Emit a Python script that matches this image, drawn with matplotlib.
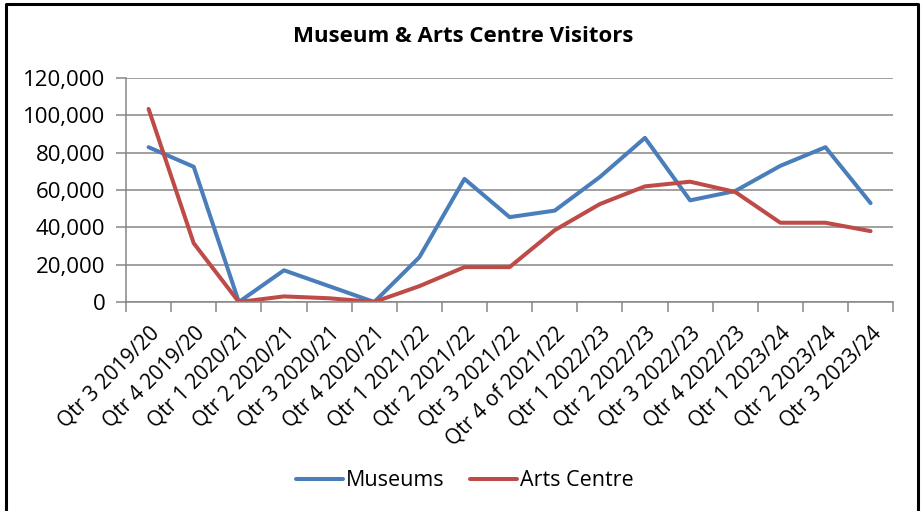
import numpy as np
import matplotlib.pyplot as plt
from matplotlib.lines import Line2D
from matplotlib.ticker import FuncFormatter

plt.rcParams['font.family'] = ['Open Sans', 'DejaVu Sans']

quarters = ['Qtr 3 2019/20', 'Qtr 4 2019/20', 'Qtr 1 2020/21', 'Qtr 2 2020/21',
            'Qtr 3 2020/21', 'Qtr 4 2020/21', 'Qtr 1 2021/22', 'Qtr 2 2021/22',
            'Qtr 3 2021/22', 'Qtr 4 of 2021/22', 'Qtr 1 2022/23', 'Qtr 2 2022/23',
            'Qtr 3 2022/23', 'Qtr 4 2022/23', 'Qtr 1 2023/24', 'Qtr 2 2023/24',
            'Qtr 3 2023/24']
museums = [83000, 72500, 0, 17000, 8500, 0, 24000, 66000, 45500, 49000,
           67000, 88000, 54500, 59500, 73000, 83000, 53000]
arts = [103500, 31500, 0, 3000, 2000, 0, 8500, 18700, 18700, 38500,
        52500, 62000, 64500, 59000, 42500, 42500, 38000]

fig = plt.figure(figsize=(9.22, 5.11), dpi=100)
ax = fig.add_axes([0.1367, 0.409, 0.832, 0.438])

x = np.arange(len(quarters))
ax.plot(x, museums, color='#4A7EBB', lw=2.9, label='Museums', solid_capstyle='round')
ax.plot(x, arts, color='#BE4B48', lw=2.9, label='Arts Centre', solid_capstyle='round')

ax.set_xlim(-0.5, len(quarters) - 0.5)
ax.set_ylim(0, 120000)
ax.set_yticks(np.arange(0, 120001, 20000))
ax.yaxis.set_major_formatter(FuncFormatter(lambda v, p: '{:,.0f}'.format(v)))
ax.grid(axis='y', color='#868686', lw=1.1)
ax.set_axisbelow(True)

ax.set_xticks(x)
ax.set_xticklabels(quarters, rotation=45, ha='right', rotation_mode='anchor', fontsize=15)
ax.set_xticks(np.arange(-0.5, len(quarters)), minor=True)
ax.tick_params(axis='x', which='major', length=0, pad=15)
ax.tick_params(axis='x', which='minor', length=7, color='#868686', width=1.1)
ax.tick_params(axis='y', length=7, color='#868686', width=1.1, labelsize=16, pad=8)

for s in ['top', 'right']:
    ax.spines[s].set_visible(False)
ax.spines['left'].set_color('#868686')
ax.spines['bottom'].set_color('#868686')
ax.spines['left'].set_linewidth(1.1)
ax.spines['bottom'].set_linewidth(1.1)

fig.text(0.502, 0.928, 'Museum & Arts Centre Visitors', ha='center', va='center',
         fontsize=16, fontweight='bold')

fig.legend(loc='center', bbox_to_anchor=(0.504, 0.059), ncol=2, frameon=False,
           fontsize=15.5, handlelength=2.2, columnspacing=1.2, handletextpad=0.1)

# chart border (left, top, right)
fig.lines.append(Line2D([0.006, 0.006, 0.996, 0.996], [0.0, 0.992, 0.992, 0.0],
                        transform=fig.transFigure, color='black', lw=2.2))

fig.savefig('out.png', dpi=100)
